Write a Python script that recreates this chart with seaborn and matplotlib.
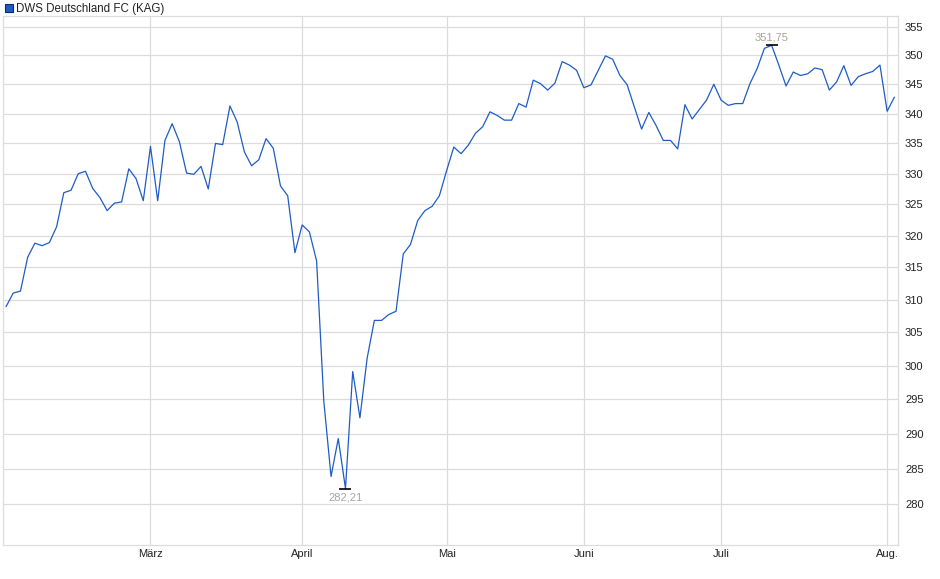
import matplotlib
matplotlib.use("Agg")
import matplotlib.pyplot as plt
from matplotlib.lines import Line2D
from matplotlib.ticker import FixedLocator, NullLocator, FuncFormatter
import seaborn as sns
import numpy as np
import pandas as pd

# ---- data (fund price, one value per valuation day, Feb 3 .. Aug 4) ----
prices = [
    308.9, 311.0, 311.3, 316.6, 318.8, 318.4, 318.9, 321.4, 326.9, 327.3,
    330.0, 330.4, 327.6, 326.1, 324.0, 325.2, 325.4, 330.8, 329.2, 325.6,
    334.5, 325.6, 335.5, 338.3, 335.3, 330.1, 329.9, 331.2, 327.5, 335.0,
    334.8, 341.3, 338.6, 333.6, 331.3, 332.3, 335.8, 334.2, 328.0, 326.4,
    317.3, 321.7, 320.6, 316.0, 294.7, 283.9, 289.3, 282.21, 299.1, 292.3,
    301.1, 306.8, 306.8, 307.7, 308.2, 317.1, 318.6, 322.4, 324.0, 324.7,
    326.4, 330.5, 334.4, 333.3, 334.7, 336.7, 337.8, 340.3, 339.7, 338.9,
    338.9, 341.7, 341.1, 345.7, 345.1, 344.0, 345.2, 348.9, 348.3, 347.4,
    344.4, 344.9, 347.4, 349.9, 349.3, 346.5, 344.9, 341.1, 337.4, 340.2,
    338.0, 335.5, 335.5, 334.1, 341.5, 339.1, 340.7, 342.3, 345.0, 342.3,
    341.4, 341.7, 341.7, 345.1, 347.7, 351.2, 351.75, 348.3, 344.7, 347.1,
    346.5, 346.8, 347.8, 347.5, 344.0, 345.4, 348.2, 344.8, 346.3, 346.8,
    347.2, 348.3, 340.4, 342.8,
]
month_labels = ["März", "April", "Mai", "Juni", "Juli", "Aug."]
month_start_idx = [20, 41, 61, 80, 99, 122]
y_ticks = [280, 285, 290, 295, 300, 305, 310, 315, 320, 325, 330, 335, 340, 345, 350, 355]
series_name = "DWS Deutschland FC (KAG)"

df = pd.DataFrame({"idx": np.arange(len(prices)), "price": prices})

# ---- style ----
sns.set_theme(style="white")
plt.rcParams["font.family"] = ["Liberation Sans", "DejaVu Sans"]

LINE = "#1f5bc6"
GRID = "#dcdcdc"

fig = plt.figure(figsize=(9.4, 5.79), dpi=100)
ax = fig.add_axes([3 / 940, 1 - 545 / 579, (898 - 3) / 940, (545 - 16) / 579])

sns.lineplot(data=df, x="idx", y="price", ax=ax, color=LINE, linewidth=0.9, zorder=3)

ax.set_yscale("log")
ax.set_ylim(274.4, 356.9)
ax.set_xlim(-0.42, 123.5)

ax.yaxis.set_major_locator(FixedLocator(y_ticks))
ax.yaxis.set_minor_locator(NullLocator())
ax.yaxis.set_major_formatter(FuncFormatter(lambda v, p: f"{v:.0f}"))
ax.yaxis.tick_right()
ax.xaxis.set_major_locator(FixedLocator(month_start_idx))
ax.set_xticklabels(month_labels)

ax.tick_params(axis="y", which="both", length=0, pad=5, labelsize=8, colors="#222222")
ax.tick_params(axis="x", length=0, pad=3, labelsize=8, colors="#222222")
ax.set_xlabel("")
ax.set_ylabel("")

ax.grid(True, which="major", color=GRID, linewidth=0.9)
ax.set_axisbelow(True)
for s in ax.spines.values():
    s.set_color(GRID)
    s.set_linewidth(0.9)

# ---- min / max annotations ----
p = np.array(prices)
imin, imax = int(p.argmin()), int(p.argmax())
fmt = lambda v: f"{v:.2f}".replace(".", ",")
ax.plot([imin], [p[imin]], marker="_", color="black", markersize=9, markeredgewidth=1.2, zorder=4)
ax.plot([imax], [p[imax]], marker="_", color="black", markersize=9, markeredgewidth=1.2, zorder=4)
ax.annotate(fmt(p[imin]), (imin, p[imin]), xytext=(0, -3), textcoords="offset points",
            ha="center", va="top", fontsize=8, color="#a4a4ac",
            bbox=dict(boxstyle="square,pad=0.1", fc="white", ec="none"), zorder=5)
ax.annotate(fmt(p[imax]), (imax, p[imax]), xytext=(0, 2), textcoords="offset points",
            ha="center", va="bottom", fontsize=8, color="#aaa399",
            bbox=dict(boxstyle="square,pad=0.1", fc="white", ec="none"), zorder=5)

# ---- legend ----
handle = Line2D([], [], marker="s", linestyle="none", markersize=6,
                markerfacecolor=LINE, markeredgecolor="#0b2b70", markeredgewidth=0.8,
                label=series_name)
leg = fig.legend(handles=[handle], loc="upper left", bbox_to_anchor=(0.0, 1.0),
                 frameon=False, fontsize=8.3, borderaxespad=0.15, borderpad=0.1,
                 handletextpad=0.1, handlelength=1.0)
for t in leg.get_texts():
    t.set_color("#222222")

fig.savefig("out.png", dpi=100)
